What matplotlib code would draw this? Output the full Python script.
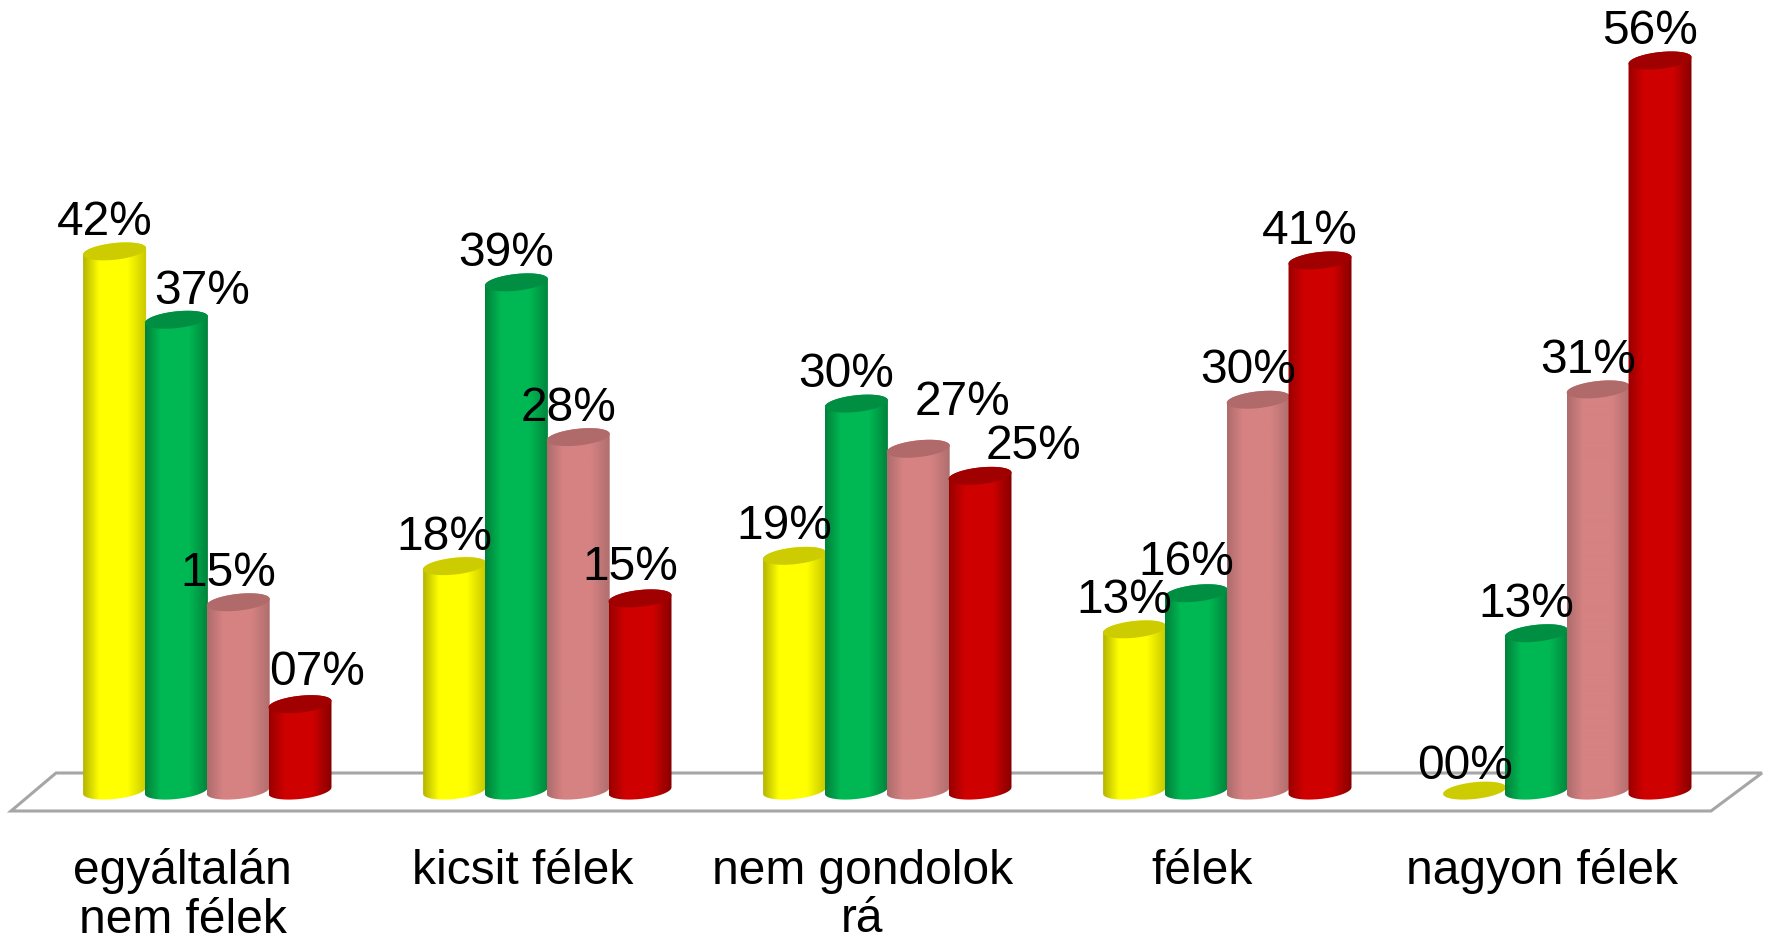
import numpy as np
import matplotlib
matplotlib.use("Agg")
import matplotlib.pyplot as plt
from matplotlib.colors import LinearSegmentedColormap
from matplotlib.patches import Polygon

categories = ["egyáltalán\nnem félek", "kicsit félek", "nem gondolok\nrá", "félek", "nagyon félek"]
yellow_values = [41.8, 17.4, 18.2, 12.5, 0.0]
green_values = [36.5, 39.4, 30.0, 15.3, 12.2]
pink_values = [14.6, 27.4, 26.5, 30.3, 31.1]
red_values = [6.7, 14.9, 24.4, 41.1, 56.6]
yellow_labels = ["42%", "18%", "19%", "13%", "00%"]
green_labels = ["37%", "39%", "30%", "16%", "13%"]
pink_labels = ["15%", "28%", "27%", "30%", "31%"]
red_labels = ["07%", "15%", "25%", "41%", "56%"]

series = [
    (yellow_values, yellow_labels, ("#B4B400", "#FFFF00", "#C8C800"), "#CCCC00"),
    (green_values, green_labels, ("#00813A", "#00B853", "#00843C"), "#008F42"),
    (pink_values, pink_labels, ("#AE6C6C", "#D68282", "#B06E6E"), "#B06A6A"),
    (red_values, red_labels, ("#9A0000", "#CF0000", "#860000"), "#A00000"),
]

# Label offsets from a bar's top, in reference pixels: (dx, dy)
default_offset = (-10, 29)
label_offsets = {
    (0, 1): (26, 28), (0, 3): (17, 32), (1, 3): (-10, 31),
    (2, 2): (44, 46), (2, 3): (53, 29), (3, 1): (-10, 31), (4, 0): (-10, 24),
}

W, H = 1771, 943
fig = plt.figure(figsize=(W / 100, H / 100), dpi=100, facecolor="white")
plt.rcParams["font.family"] = ["Liberation Sans", "DejaVu Sans"]

px_per_pct = 12.9
zero_y = 790.6
floor_y = 811.0
first_center = 207.3
group_pitch = 340.0
ax = fig.add_axes([0, (H - floor_y) / H, 1, floor_y / H])
ax.set_facecolor("none")

# Floor plate
floor = [(11, 811), (56, 773), (1762, 773), (1711, 811)]
ax.add_patch(Polygon([(x / W, 1 - y / H) for x, y in floor], closed=True,
                     transform=fig.transFigure, facecolor="white",
                     edgecolor="#A6A6A6", lw=2.2, zorder=1, clip_on=False))

bar_w = 63.0 / group_pitch
step = 61.8 / group_pitch
semi_minor = 0.65
tilt = 0.25
t = np.linspace(0, 2 * np.pi, 90)
z = 2
for gi in range(len(categories)):
    for si, (vals, labels, stops, cap) in enumerate(series):
        v = vals[gi]
        c = gi + (si - 1.5) * step
        cx = c + bar_w / 2 * np.cos(t)
        edge = tilt * np.cos(t) + semi_minor * np.sin(t)
        if v > 0:
            low = t[t >= np.pi]
            high = t[t <= np.pi]
            xs = np.r_[c + bar_w / 2 * np.cos(low), c + bar_w / 2 * np.cos(high)]
            ys = np.r_[tilt * np.cos(low) + semi_minor * np.sin(low),
                       v + tilt * np.cos(high) + semi_minor * np.sin(high)]
            cmap = LinearSegmentedColormap.from_list(
                "cyl", [(0, stops[0]), (0.25, stops[1]), (0.7, stops[1]), (1, stops[2])])
            im = ax.imshow(np.linspace(0, 1, 128)[None, :], cmap=cmap, aspect="auto",
                           extent=(c - bar_w / 2, c + bar_w / 2, -2, v + 2),
                           zorder=z, interpolation="bilinear")
            body = Polygon(np.c_[xs, ys], closed=True, transform=ax.transData)
            im.set_clip_path(body)
        ax.fill(cx, v + edge, color=cap, lw=0, zorder=z + 0.5)
        z += 1
        dx, dy = label_offsets.get((gi, si), default_offset)
        ax.annotate(labels[gi], (c, v), xytext=(dx, dy), textcoords="offset pixels",
                    ha="center", va="center", fontsize=34.5, color="black", zorder=200,
                    annotation_clip=False)

ax.set_xlim(-first_center / group_pitch, (W - first_center) / group_pitch)
ax.set_ylim(-(floor_y - zero_y) / px_per_pct, zero_y / px_per_pct)
ax.set_xticks(np.arange(len(categories)) - 0.073)
ax.set_xticklabels(categories, fontsize=34.5, linespacing=1.1)
ax.tick_params(axis="x", length=0, pad=27)
ax.set_yticks([])
for s in ax.spines.values():
    s.set_visible(False)

fig.savefig("out.png", dpi=100, facecolor="white")
